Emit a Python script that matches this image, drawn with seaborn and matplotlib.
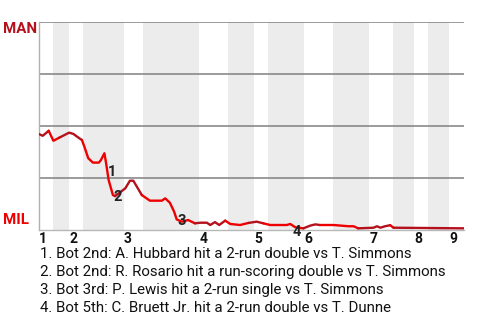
import numpy as np
import pandas as pd
import matplotlib
matplotlib.use("Agg")
import matplotlib.pyplot as plt
import seaborn as sns

# ---- data (game progress 0-100, MAN win probability in %) ----
progress = [0, 1.0, 2.4, 3.5, 4.9, 7.2, 8.2, 9.6, 10.2, 10.8, 11.7, 12.8, 14.2, 14.7,
            15.5, 15.9, 16.5, 17.5, 18.0, 20.4, 21.5, 22.3, 24.3, 26.2, 29.0, 29.8,
            30.9, 31.9, 32.5, 33.7, 35.2, 36.8, 38.0, 39.6, 40.4, 41.5, 42.5, 43.9,
            45.1, 47.4, 49.4, 51.3, 52.9, 54.5, 58.4, 59.2, 60.4, 62.3, 63.9, 65.1,
            66.2, 69.4, 72.9, 74.1, 75.2, 78.8, 79.6, 80.4, 81.5, 82.7, 83.5, 100]
man_wp = [46.2, 45.3, 47.7, 42.9, 44.4, 46.8, 46.2, 44.1, 43.3, 40.0, 34.5, 32.4, 32.4,
          33.7, 36.9, 32.1, 24.0, 16.8, 16.3, 20.0, 23.7, 23.7, 16.8, 14.1, 14.1, 15.2,
          13.1, 8.8, 5.1, 4.0, 4.8, 3.2, 3.5, 3.5, 2.4, 3.8, 2.4, 4.5, 2.9, 2.4, 3.4,
          4.0, 3.2, 2.4, 2.4, 2.9, 1.3, 0.8, 2.1, 2.7, 2.4, 2.4, 1.8, 1.8, 0.8, 1.1,
          1.8, 1.1, 1.8, 2.3, 1.1, 0.8]
half_starts = [0, 3.4, 7.2, 10.5, 20.1, 24.6, 37.8, 44.6, 50.7, 54.0, 62.5, 69.3,
               77.8, 83.4, 88.4, 91.6, 96.6]
game_end = 100
inning_labels = ["1", "2", "3", "4", "5", "6", "7", "8", "9"]
teams = ["MAN", "MIL"]
team_colors = {"MAN": "#b5101d", "MIL": "#ee0000"}
ann_labels = ["1", "2", "3", "4"]
ann_x = [17.4, 18.6, 33.8, 60.8]
ann_y = [27.9, 16.1, 4.3, -1.2]
events = [
    "1. Bot 2nd: A. Hubbard hit a 2-run double vs T. Simmons",
    "2. Bot 2nd: R. Rosario hit a run-scoring double vs T. Simmons",
    "3. Bot 3rd: P. Lewis hit a 2-run single vs T. Simmons",
    "4. Bot 5th: C. Bruett Jr. hit a 2-run double vs T. Dunne",
]

# ---- build segments coloured by batting team ----
half_idx = [int(np.searchsorted(half_starts, x, side="right") - 1) for x in progress]
rows = []
for i, (x, y) in enumerate(zip(progress, man_wp)):
    h = half_idx[i]
    rows.append(dict(x=x, y=y, seg=h, team=teams[h % 2]))
    if i + 1 < len(progress) and half_idx[i + 1] != h:
        rows.append(dict(x=x, y=y, seg=half_idx[i + 1], team=teams[half_idx[i + 1] % 2]))
df = pd.DataFrame(rows)

sns.set_style("white")
plt.rcParams["font.family"] = ["Roboto", "DejaVu Sans"]

fig = plt.figure(figsize=(4.8, 3.2), dpi=100)
ax = fig.add_axes([38.5 / 480, 90 / 320, (463.7 - 38.5) / 480, 208 / 320])

bounds = half_starts + [game_end]
for k in range(1, len(half_starts), 2):
    ax.axvspan(bounds[k], bounds[k + 1], color="#ececec", lw=0, zorder=0)

for yv in [25, 50, 75, 100]:
    ax.axhline(yv, color="#808080", lw=1.1, zorder=1)

seg_palette = {s: team_colors[teams[s % 2]] for s in df["seg"].unique()}
sns.lineplot(data=df, x="x", y="y", hue="seg", palette=seg_palette, units="seg",
             estimator=None, sort=False, legend=False, lw=1.7, ax=ax, zorder=3)

for lab, x, y in zip(ann_labels, ann_x, ann_y):
    ax.text(x, y, lab, ha="center", va="center", fontsize=10.5, fontweight="bold",
            color="#222222", zorder=4, clip_on=False)

ax.set_xlim(0, game_end)
ax.set_ylim(0, 100)
ax.set_xlabel("")
ax.set_ylabel("")
ax.set_yticks([])
inning_starts = [bounds[k] for k in range(0, len(half_starts), 2)]
ax.set_xticks(inning_starts)
ax.set_xticklabels(inning_labels, ha="left", fontsize=10, fontweight="bold", color="#111111")
ax.tick_params(axis="x", length=0, pad=1.5)
for s in ["top", "right"]:
    ax.spines[s].set_visible(False)
ax.spines["left"].set_color("#b0b0b0")
ax.spines["bottom"].set_color("#b8b8b8")
ax.spines["left"].set_linewidth(1.0)
ax.spines["bottom"].set_linewidth(1.0)

fig.text(3 / 480, 1 - 29 / 320, teams[0], ha="left", va="center", fontsize=10.8,
         fontweight="bold", color=team_colors["MAN"])
fig.text(3 / 480, 1 - 220 / 320, teams[1], ha="left", va="center", fontsize=10.8,
         fontweight="bold", color=team_colors["MIL"])

for i, t in enumerate(events):
    fig.text(40 / 480, 1 - (254 + 18 * i) / 320, t, ha="left", va="center",
             fontsize=10.8, color="#111111")

fig.savefig("out.png", dpi=100)
